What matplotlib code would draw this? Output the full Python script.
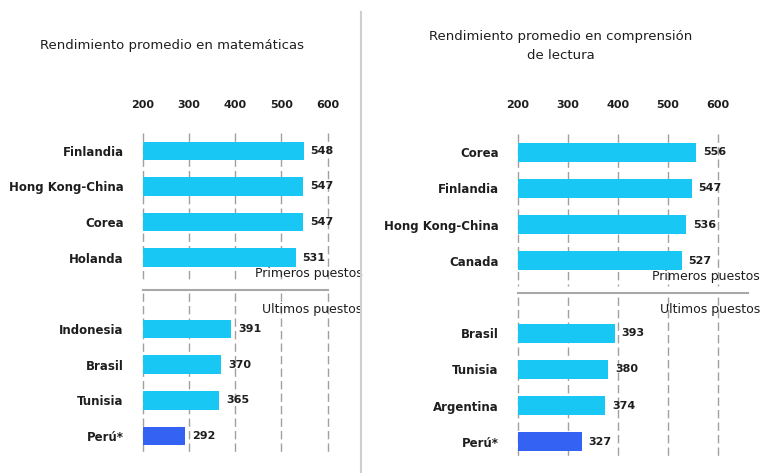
import matplotlib
matplotlib.use("Agg")
import matplotlib.pyplot as plt
from matplotlib.lines import Line2D

plt.rcParams['font.family'] = ['DejaVu Sans']

# ---- data ----
math_countries = ["Finlandia", "Hong Kong-China", "Corea", "Holanda",
                  "Indonesia", "Brasil", "Tunisia", "Perú*"]
math_values = [548, 547, 547, 531, 391, 370, 365, 292]

read_countries = ["Corea", "Finlandia", "Hong Kong-China", "Canada",
                  "Brasil", "Tunisia", "Argentina", "Perú*"]
read_values = [556, 547, 536, 527, 393, 380, 374, 327]

x_ticks = [200, 300, 400, 500, 600]
x_tick_labels = ["200", "300", "400", "500", "600"]
positions = [0, 1, 2, 3, 5, 6, 7, 8]
highlight = "Perú*"

math_title = "Rendimiento promedio en matemáticas"
read_title = "Rendimiento promedio en comprensión\nde lectura"
top_label = "Primeros puestos"
bottom_label = "Ultimos puestos"

CYAN = "#18C7F3"
BLUE = "#3462F2"
GRID = "#a0a0a0"
TXT = "#1e1e1e"

W, H = 764, 473
fig = plt.figure(figsize=(W / 100, H / 100), dpi=100)


def px_axes(x0, x1, ytop, ybot):
    return fig.add_axes([x0 / W, 1 - ybot / H, (x1 - x0) / W, (ybot - ytop) / H])


def draw_panel(ax, countries, values, sep_right, lab_x, pad):
    ax.set_xlim(200, 600)
    ax.set_ylim(8.45, -0.5)
    # gridlines (broken at the separator)
    for t in x_ticks:
        ax.vlines(t, -0.5, 3.7, color=GRID, lw=1, linestyle=(0, (6, 3)),
                  zorder=1, clip_on=False)
        ax.vlines(t, 4.0, 8.45, color=GRID, lw=1, linestyle=(0, (6, 3)),
                  zorder=1, clip_on=False)
    colors = [BLUE if c == highlight else CYAN for c in countries]
    ax.barh(positions, [v - 200 for v in values], left=200, height=0.52,
            color=colors, zorder=2)
    for p, v in zip(positions, values):
        ax.annotate(str(v), (v, p), xytext=(5, 0), textcoords="offset points",
                    va="center", ha="left", fontsize=8, fontweight="bold",
                    color=TXT, zorder=3)
    ax.set_yticks(positions)
    ax.set_yticklabels(countries, fontsize=8.5, fontweight="bold", color=TXT)
    ax.set_xticks(x_ticks)
    ax.set_xticklabels(x_tick_labels, fontsize=8, fontweight="bold", color=TXT)
    ax.xaxis.tick_top()
    ax.tick_params(axis="x", length=0, pad=pad)
    ax.tick_params(axis="y", length=0, pad=lab_x)
    for s in ax.spines.values():
        s.set_visible(False)
    # separator line
    ax.plot([0, sep_right], [3.9, 3.9], transform=ax.get_yaxis_transform(),
            color="#a8a8a8", lw=1.5, clip_on=False, zorder=2)
    ax.patch.set_alpha(0)


ax1 = px_axes(143, 327.5, 133, 452)
draw_panel(ax1, math_countries, math_values, 1.0, 14, 16.5)
ax1.text(1.19, 3.45, top_label, transform=ax1.get_yaxis_transform(),
         ha="right", va="center", fontsize=9, color=TXT)
ax1.text(1.19, 4.44, bottom_label, transform=ax1.get_yaxis_transform(),
         ha="right", va="center", fontsize=9, color=TXT)

ax2 = px_axes(518, 718, 134, 458)
draw_panel(ax2, read_countries, read_values, 1.15, 14, 17)
ax2.text(1.21, 3.45, top_label, transform=ax2.get_yaxis_transform(),
         ha="right", va="center", fontsize=9, color=TXT)
ax2.text(1.21, 4.34, bottom_label, transform=ax2.get_yaxis_transform(),
         ha="right", va="center", fontsize=9, color=TXT)

# titles
fig.text(172 / W, 1 - 45 / H, math_title, ha="center", va="center",
         fontsize=9.5, color=TXT)
fig.text(561 / W, 1 - 46 / H, read_title, ha="center", va="center",
         fontsize=9.5, color=TXT, linespacing=1.65)

# vertical divider
fig.add_artist(Line2D([361 / W, 361 / W], [0, 1 - 12 / H],
                      transform=fig.transFigure, color="#cfcfcf", lw=1.5))

fig.savefig("out.png", dpi=100)
